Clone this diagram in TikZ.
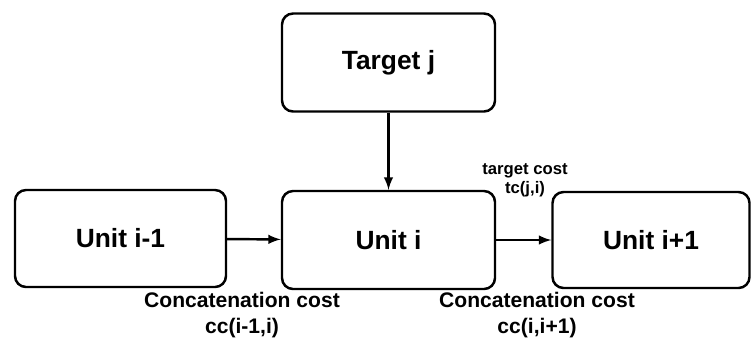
\documentclass[tikz,border=0pt]{standalone}
\usepackage{fontspec}
\setmainfont{Liberation Sans}
\begin{document}
\begin{tikzpicture}

% definitions
\tikzstyle{unit} = [rectangle, rounded corners=0.22cm, minimum width=4.26cm, minimum height=1.96cm, text centered, draw=black, line width=1.4pt, font=\fontsize{15}{18}\selectfont\bfseries]

\tikzstyle{cost} = [align=center, inner sep=0pt, font=\fontsize{12}{15}\selectfont\bfseries]

\tikzstyle{arrow} = [->,>=latex, line width=1.4pt]

\useasboundingbox (0,0) rectangle (15.04,6.8);

% the graph
\node (t0) [unit] at (7.77,5.55) {Target j};

\node (u1) [unit] at (7.77,2.0) {Unit i};

\node (u0) [unit, minimum width=4.22cm, minimum height=1.94cm] at (2.41,2.03) {Unit i-1};

\node (u2) [unit, minimum width=3.94cm, minimum height=1.92cm] at (13.02,2.0) {Unit i+1};

\node (c0) [cost, font=\fontsize{9.5}{11}\selectfont\bfseries] at (10.5,3.2) {target cost\\tc(j,i)};

\node (c1) [cost] at (4.84,0.5) {Concatenation cost\\cc(i-1,i)};

\node (c2) [cost] at (10.74,0.5) {Concatenation cost\\cc(i,i+1)};

\draw [arrow] (t0) -- (u1);
\draw [arrow] (u0) -- (u1);
\draw [arrow] (u1) -- (u2);

\end{tikzpicture}
\end{document}
